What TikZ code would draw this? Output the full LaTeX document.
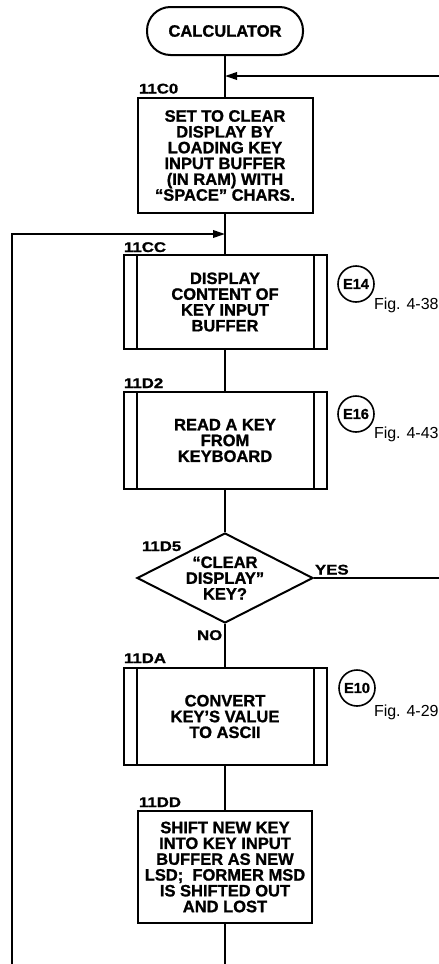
\documentclass[tikz,border=0pt]{standalone}
\usepackage{fontspec}
\setmainfont{Liberation Sans}[BoldFeatures={FakeBold=1.2}]
\newfontfamily\lblfont{Liberation Sans}[FakeStretch=1.2, BoldFeatures={FakeBold=1.2}]
\usetikzlibrary{arrows.meta,shapes.geometric}
\begin{document}
\begin{tikzpicture}[x=1pt,y=-1pt,
  line width=2pt,
  boxtxt/.style={font=\fontsize{16.5}{15.8}\selectfont\bfseries, align=center, inner sep=0pt},
  procbox/.style={boxtxt, draw, rectangle},
  predef/.style={procbox, minimum width=203pt},
  term/.style={boxtxt, draw, rectangle, rounded corners=23.5pt, minimum width=156pt, minimum height=48pt},
  dec/.style={boxtxt, draw, diamond, aspect=2, minimum width=176pt, minimum height=90pt},
  addr/.style={font=\lblfont\fontsize{14}{14}\selectfont\bfseries, anchor=base west, inner sep=0pt},
  conn/.style={draw, circle, line width=1.6pt, minimum size=36pt, inner sep=0pt, font=\fontsize{14.5}{14.5}\selectfont\bfseries},
  figtxt/.style={font=\fontsize{16}{16}\selectfont, anchor=base west, inner sep=0pt},
  arr/.style={-{Triangle[length=12pt,width=7.5pt]}}
]
\useasboundingbox (0,0) rectangle (439,964);

% nodes
\node[term] (calc) at (225,31) {CALCULATOR};
\node[procbox, minimum width=175pt, minimum height=115pt] (b1) at (225,155.5)
  {SET TO CLEAR\\DISPLAY BY\\LOADING KEY\\INPUT BUFFER\\(IN RAM) WITH\\“SPACE” CHARS.};
\node[predef, minimum height=94pt] (b2) at (225,302)
  {DISPLAY\\CONTENT OF\\KEY INPUT\\BUFFER};
\node[predef, minimum height=97pt] (b3) at (225,440.5)
  {READ A KEY\\FROM\\KEYBOARD};
\node[dec] (d) at (225,578) {“CLEAR\\DISPLAY”\\KEY?};
\node[predef, minimum height=97pt] (b4) at (225,716.5)
  {CONVERT\\KEY’S VALUE\\TO ASCII};
\node[procbox, minimum width=174pt, minimum height=112pt] (b5) at (225,867)
  {SHIFT NEW KEY\\INTO KEY INPUT\\BUFFER AS NEW\\LSD;\ \ FORMER MSD\\IS SHIFTED OUT\\AND LOST};

% predefined-process inner bars
\foreach \b in {b2,b3,b4}{
  \draw ([xshift=14pt]\b.north west) -- ([xshift=14pt]\b.south west);
  \draw ([xshift=-14pt]\b.north east) -- ([xshift=-14pt]\b.south east);
}

% address labels
\node[addr] (a1) at (138,93.5) {11C0};
\node[addr] (a2) at (123,252) {11CC};
\node[addr] (a3) at (123,388) {11D2};
\node[addr] (a4) at (141,551) {11D5};
\node[addr] (a5) at (123,663) {11DA};
\node[addr] (a6) at (138,807) {11DD};

% yes / no
\node[addr] (yes) at (314,574.5) {YES};
\node[addr] (no) at (196,640) {NO};

% off-page connectors
\node[conn] (e14) at (356,284) {E14};
\node[figtxt] (f14) at (373,309) {Fig. 4-38};
\node[conn] (e16) at (356,414) {E16};
\node[figtxt] (f16) at (373,438) {Fig. 4-43};
\node[conn] (e10) at (357,688) {E10};
\node[figtxt] (f10) at (373,716) {Fig. 4-29};

% coordinates
\coordinate (rtop) at (439,76);
\coordinate (jtop) at (225,76);
\coordinate (ryes) at (439,578);
\coordinate (lb) at (12,964);
\coordinate (lt) at (12,234);
\coordinate (jl) at (225,234);
\coordinate (bot) at (225,964);

% connectors
\draw (calc.south) -- (b1.north);
\draw (b1.south) -- (b2.north);
\draw (b2.south) -- (b3.north);
\draw (b3.south) -- (d.north);
\draw (d.south) -- (b4.north);
\draw (b4.south) -- (b5.north);
\draw (b5.south) -- (bot);
\draw[arr] (rtop) -- (jtop);
\draw (d.east) -- (ryes);
\draw[arr] (lb) -- (lt) -- (jl);
\end{tikzpicture}
\end{document}
